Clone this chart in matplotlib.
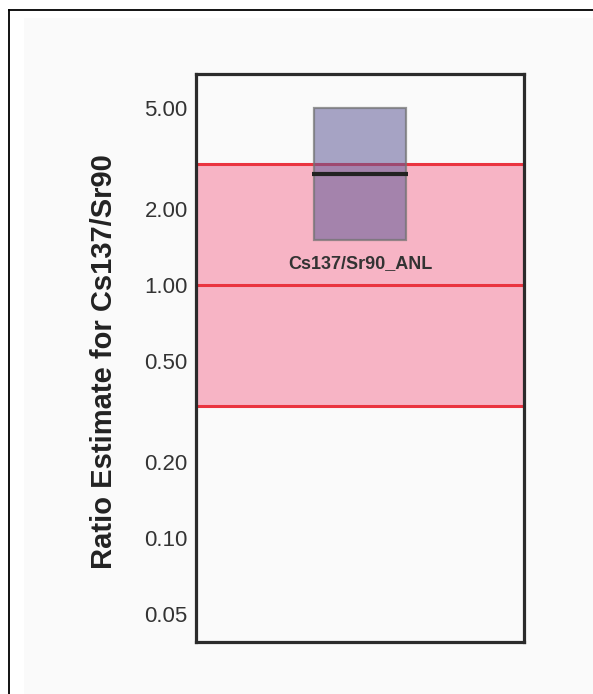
import matplotlib
matplotlib.use("Agg")
import matplotlib.pyplot as plt
from matplotlib.patches import Rectangle
from matplotlib.lines import Line2D
from matplotlib.ticker import FixedLocator, NullLocator, FuncFormatter

plt.rcParams['font.family'] = ['Liberation Sans', 'DejaVu Sans']

# Ratio estimate for the single source
categories = ["Cs137/Sr90_ANL"]
box_low = [1.5]
box_high = [5.0]
box_median = [2.75]

# Acceptance band around a ratio of one
band_low = 1.0 / 3.0
band_high = 3.0
band_center = 1.0

y_ticks = [0.05, 0.10, 0.20, 0.50, 1.00, 2.00, 5.00]
y_limits = (0.0388, 6.82)

W, H = 593, 694
fig = plt.figure(figsize=(W / 100, H / 100), dpi=100, facecolor="white")

# light panel and frame lines
fig.patches.append(Rectangle((24 / W, 0), 1 - 24 / W, (H - 18) / H,
                             transform=fig.transFigure, facecolor="#fafafa",
                             edgecolor="none", zorder=-10))
fig.lines.append(Line2D([9 / W, 1], [(H - 10) / H] * 2, transform=fig.transFigure,
                        color="black", lw=1.3))
fig.lines.append(Line2D([9 / W] * 2, [0, (H - 10) / H], transform=fig.transFigure,
                        color="black", lw=1.3))

ax = fig.add_axes([196 / W, (H - 642) / H, (524 - 196) / W, (642 - 74) / H])
ax.set_facecolor("#fafafa")
ax.set_yscale("log")
ax.set_ylim(*y_limits)
ax.set_xlim(0, 1)

# acceptance band
ax.axhspan(band_low, band_high, facecolor="#f7b4c5", edgecolor="none", zorder=1)
for v in (band_low, band_center, band_high):
    ax.axhline(v, color="#ea3440", lw=2.2, zorder=2)

# boxes
width = 0.28
for i, name in enumerate(categories):
    xc = 0.5 + i
    ax.add_patch(Rectangle((xc - width / 2, box_low[i]), width, box_high[i] - box_low[i],
                           facecolor=(0.38, 0.36, 0.60, 0.55),
                           edgecolor=(0.45, 0.45, 0.45, 0.75), lw=1.6, zorder=3))
    ax.plot([xc - width / 2 - 0.005, xc + width / 2 + 0.005], [box_median[i]] * 2,
            color="#222222", lw=3.0, solid_capstyle="butt", zorder=4)
    ax.annotate(name, xy=(xc, box_low[i]), xytext=(0, -16.5), textcoords="offset points",
                ha="center", va="center", fontsize=13, fontweight="bold",
                color="#333333", zorder=5)

ax.yaxis.set_major_locator(FixedLocator(y_ticks))
ax.yaxis.set_minor_locator(NullLocator())
ax.yaxis.set_major_formatter(FuncFormatter(lambda v, p: f"{v:.2f}"))
ax.tick_params(axis="y", length=0, pad=6, labelsize=16, labelcolor="#333333")
ax.set_xticks([])

for s in ax.spines.values():
    s.set_linewidth(2.3)
    s.set_color("#2b2b2b")
    s.set_zorder(6)

ax.set_ylabel("Ratio Estimate for Cs137/Sr90", fontsize=21, fontweight="bold",
              color="#222222")
ax.yaxis.set_label_coords(-0.238, 0.494)

fig.savefig("out.png", dpi=100, facecolor=fig.get_facecolor())
